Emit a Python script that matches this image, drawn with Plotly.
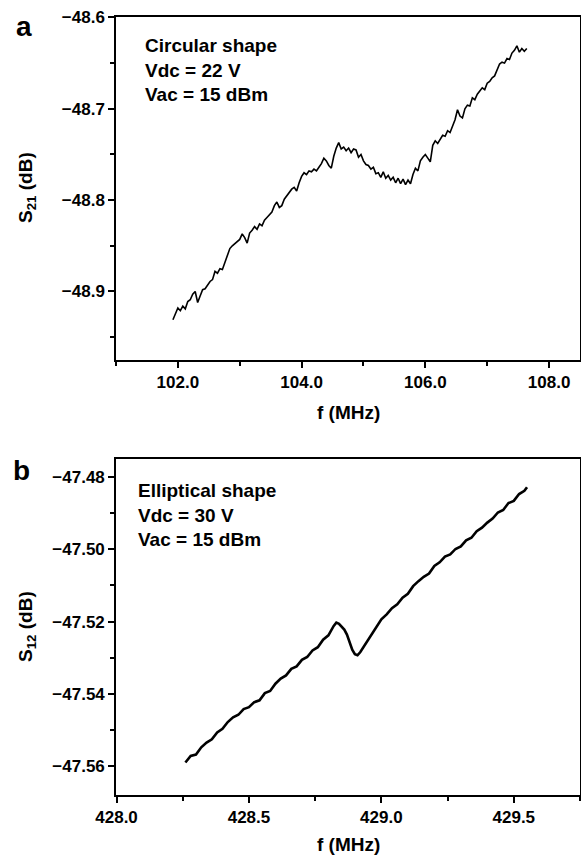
import plotly.graph_objects as go

# ---------------- data ----------------
freq_a = [101.92, 101.96, 102.00, 102.04, 102.08, 102.12, 102.16, 102.20, 102.24, 102.28,
          102.32, 102.36, 102.40, 102.44, 102.48, 102.52, 102.56, 102.60, 102.64, 102.68,
          102.72, 102.76, 102.80, 102.84, 102.88, 102.92, 102.96, 103.00, 103.04, 103.08,
          103.12, 103.16, 103.20, 103.24, 103.28, 103.32, 103.36, 103.40, 103.44, 103.48,
          103.52, 103.56, 103.60, 103.64, 103.68, 103.72, 103.76, 103.80, 103.84, 103.88,
          103.92, 103.96, 104.00, 104.04, 104.08, 104.12, 104.16, 104.20, 104.24, 104.28,
          104.32, 104.36, 104.40, 104.44, 104.48, 104.52, 104.56, 104.60, 104.64, 104.68,
          104.72, 104.76, 104.80, 104.84, 104.88, 104.92, 104.96, 105.00, 105.04, 105.08,
          105.12, 105.16, 105.20, 105.24, 105.28, 105.32, 105.36, 105.40, 105.44, 105.48,
          105.52, 105.56, 105.60, 105.64, 105.68, 105.72, 105.76, 105.80, 105.84, 105.88,
          105.92, 105.96, 106.00, 106.04, 106.08, 106.12, 106.16, 106.20, 106.24, 106.28,
          106.32, 106.36, 106.40, 106.44, 106.48, 106.52, 106.56, 106.60, 106.64, 106.68,
          106.72, 106.76, 106.80, 106.84, 106.88, 106.92, 106.96, 107.00, 107.04, 107.08,
          107.12, 107.16, 107.20, 107.24, 107.28, 107.32, 107.36, 107.40, 107.44, 107.48,
          107.52, 107.56, 107.60, 107.64]
s21_a = [-48.931, -48.925, -48.918, -48.921, -48.916, -48.919, -48.911, -48.909, -48.903, -48.900,
         -48.912, -48.905, -48.898, -48.897, -48.893, -48.889, -48.887, -48.878, -48.880, -48.875,
         -48.876, -48.869, -48.862, -48.853, -48.850, -48.848, -48.846, -48.843, -48.837, -48.841,
         -48.847, -48.836, -48.833, -48.829, -48.832, -48.826, -48.828, -48.822, -48.819, -48.816,
         -48.813, -48.806, -48.802, -48.808, -48.806, -48.799, -48.795, -48.792, -48.788, -48.786,
         -48.790, -48.781, -48.774, -48.770, -48.772, -48.768, -48.769, -48.766, -48.768, -48.764,
         -48.760, -48.754, -48.757, -48.762, -48.765, -48.752, -48.743, -48.737, -48.744, -48.742,
         -48.746, -48.743, -48.748, -48.744, -48.745, -48.753, -48.750, -48.757, -48.761, -48.762,
         -48.766, -48.764, -48.771, -48.770, -48.775, -48.769, -48.776, -48.773, -48.778, -48.775,
         -48.781, -48.776, -48.782, -48.777, -48.783, -48.778, -48.782, -48.772, -48.765, -48.768,
         -48.757, -48.753, -48.750, -48.754, -48.758, -48.740, -48.735, -48.738, -48.733, -48.729,
         -48.730, -48.724, -48.726, -48.718, -48.712, -48.701, -48.708, -48.710, -48.700, -48.696,
         -48.697, -48.688, -48.690, -48.684, -48.681, -48.677, -48.679, -48.672, -48.670, -48.666,
         -48.664, -48.658, -48.651, -48.649, -48.650, -48.645, -48.646, -48.639, -48.636, -48.631,
         -48.638, -48.634, -48.637, -48.634]

freq_b = [428.26, 428.28, 428.30, 428.32, 428.34, 428.36, 428.38, 428.40, 428.42, 428.44,
          428.46, 428.48, 428.50, 428.52, 428.54, 428.56, 428.58, 428.60, 428.62, 428.64,
          428.66, 428.68, 428.70, 428.72, 428.74, 428.76, 428.78, 428.80, 428.82, 428.83,
          428.84, 428.86, 428.87, 428.88, 428.89, 428.90, 428.91, 428.92, 428.94, 428.96,
          428.98, 429.00, 429.02, 429.04, 429.06, 429.08, 429.10, 429.12, 429.14, 429.16,
          429.18, 429.20, 429.22, 429.24, 429.26, 429.28, 429.30, 429.32, 429.34, 429.36,
          429.38, 429.40, 429.42, 429.44, 429.46, 429.48, 429.50, 429.52, 429.54, 429.55]
s12_b = [-47.5590, -47.5572, -47.5568, -47.5548, -47.5535, -47.5526, -47.5507, -47.5497, -47.5478, -47.5465,
         -47.5458, -47.5442, -47.5437, -47.5423, -47.5418, -47.5398, -47.5392, -47.5372, -47.5358, -47.5349,
         -47.5331, -47.5324, -47.5306, -47.5298, -47.5280, -47.5271, -47.5250, -47.5238, -47.5212, -47.5203,
         -47.5206, -47.5222, -47.5236, -47.5258, -47.5278, -47.5290, -47.5293, -47.5285, -47.5262, -47.5238,
         -47.5218, -47.5194, -47.5180, -47.5163, -47.5152, -47.5134, -47.5123, -47.5102, -47.5088, -47.5076,
         -47.5067, -47.5046, -47.5036, -47.5020, -47.5014, -47.4999, -47.4992, -47.4975, -47.4968, -47.4950,
         -47.4940, -47.4926, -47.4915, -47.4898, -47.4891, -47.4872, -47.4866, -47.4847, -47.4838, -47.4828]

note_a = ["Circular shape", "Vdc = 22 V", "Vac = 15 dBm"]
note_b = ["Elliptical shape", "Vdc = 30 V", "Vac = 15 dBm"]

# ---------------- layout helpers ----------------
W, H = 581, 856
FONT = "Liberation Sans, Arial, Helvetica, sans-serif"


def px(x):
    return x / W


def py(y):
    return 1 - y / H


fig = go.Figure()
fig.add_trace(go.Scatter(x=freq_a, y=s21_a, mode="lines",
                         line=dict(color="black", width=1.6), xaxis="x", yaxis="y",
                         showlegend=False))
fig.add_trace(go.Scatter(x=freq_b, y=s12_b, mode="lines",
                         line=dict(color="black", width=2.6), xaxis="x2", yaxis="y2",
                         showlegend=False))

tickfont = dict(family=FONT, size=17, color="black", weight="bold")
common = dict(showline=True, linecolor="black", linewidth=1.5, mirror=True,
              ticks="outside", ticklen=6, tickwidth=1.5, tickcolor="black",
              showgrid=False, zeroline=False, tickfont=tickfont, automargin=False)


def minor(d):
    return dict(dtick=d, ticks="outside", ticklen=4, tickwidth=1.5,
                tickcolor="black", showgrid=False)


fig.update_layout(
    template="none",
    width=W, height=H,
    margin=dict(l=0, r=0, t=0, b=0, pad=0),
    paper_bgcolor="white", plot_bgcolor="white",
    xaxis=dict(domain=[px(116), px(580)], anchor="y", range=[101.0, 108.5],
               tick0=102, dtick=2, tickformat=".1f", minor=minor(1), **common),
    yaxis=dict(domain=[py(360), py(17)], anchor="x", range=[-48.975, -48.5995],
               tick0=-48.6, dtick=0.1, tickformat=".1f", minor=minor(0.05), **common),
    xaxis2=dict(domain=[px(116), px(580)], anchor="y2", range=[427.998, 429.75],
                tick0=428, dtick=0.5, tickformat=".1f", minor=minor(0.25), **common),
    yaxis2=dict(domain=[py(795), py(459)], anchor="x2", range=[-47.568, -47.475],
                tick0=-47.48, dtick=0.02, tickformat=".2f", minor=minor(0.01), **common),
)

titlefont = dict(family=FONT, size=19, color="black", weight="bold")
notefont = dict(family=FONT, size=19, color="black", weight="bold")
letterfont = dict(family=FONT, size=28, color="black", weight="bold")

ann = [
    # panel letters
    dict(text="a", x=px(24), y=py(26), font=letterfont),
    dict(text="b", x=px(21), y=py(470), font=letterfont),
    # x titles
    dict(text="f (MHz)", x=px(348), y=py(413), font=titlefont),
    dict(text="f (MHz)", x=px(348), y=py(844), font=titlefont),
    # y titles
    dict(text="S<sub>21</sub> (dB)", x=px(27), y=py(188), font=titlefont, textangle=-90),
    dict(text="S<sub>12</sub> (dB)", x=px(27), y=py(627), font=titlefont, textangle=-90),
    # notes
    dict(text="<br>".join(note_a), x=px(143), y=py(33), font=notefont,
         xanchor="left", yanchor="top", align="left"),
    dict(text="<br>".join(note_b), x=px(136), y=py(478), font=notefont,
         xanchor="left", yanchor="top", align="left"),
]
for a in ann:
    a.setdefault("xanchor", "center")
    a.setdefault("yanchor", "middle")
    fig.add_annotation(xref="paper", yref="paper", showarrow=False, **a)

fig.write_html("out.html", config={"displayModeBar": False},
               post_script="document.body.style.margin='0px';")
